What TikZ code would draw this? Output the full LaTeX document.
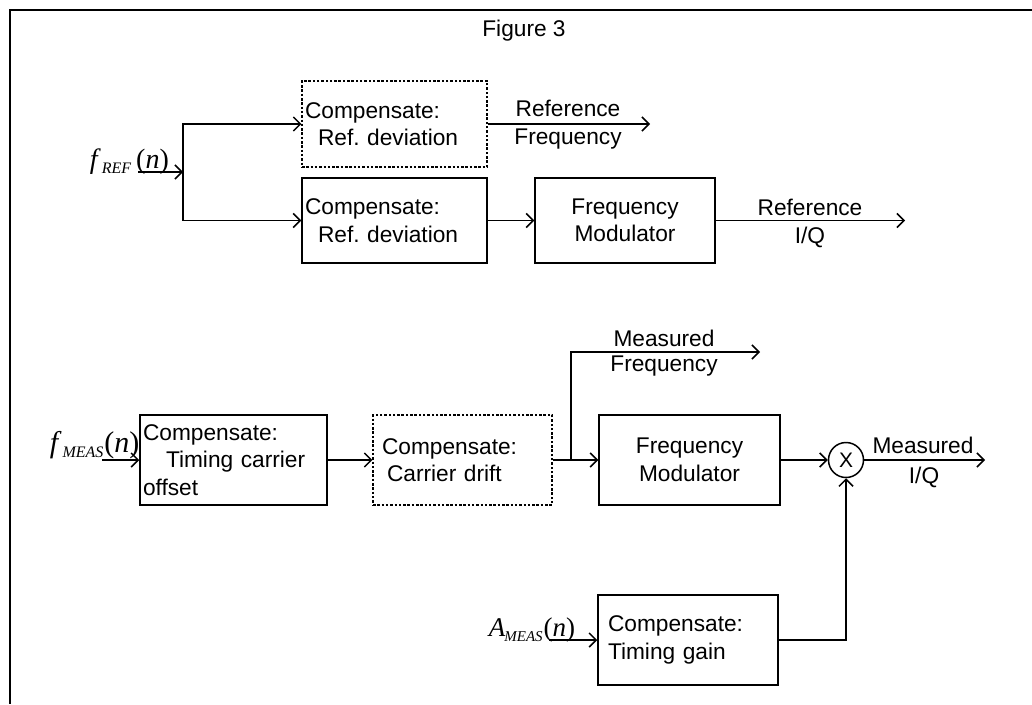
\documentclass[tikz,border=0pt]{standalone}
\usepackage{fontspec}
\setmainfont{Liberation Sans}
\newfontfamily\tnr{Liberation Serif}
\usetikzlibrary{arrows.meta}
\frenchspacing
% #1 letter, #2 subscript, #3 main size, #4 kern after letter, #5 sub size, #6 kern before (n)
\newcommand{\siglab}[6]{{\tnr\fontsize{#3}{#3}\selectfont\textit{#1}\kern#4\raisebox{-5pt}{\fontsize{#5}{#5}\selectfont\textit{#2}}\kern#6(\textit{n})}}
\begin{document}
\begin{tikzpicture}[x=1pt,y=-1pt,line width=1.5pt,
  every node/.style={font=\fontsize{22.7}{27.5}\selectfont},
  arr/.style={-{Straight Barb[length=7pt,width=14pt,line width=1.5pt]}},
  sbox/.style={draw,rectangle,inner ysep=0pt},
  dbox/.style={draw,rectangle,inner ysep=0pt,line width=1.2pt,dash pattern=on 2.5pt off 1.8pt},
  lbl/.style={anchor=base,inner sep=0pt},
  sig/.style={anchor=base west,inner sep=0pt}]
\useasboundingbox (0,0) rectangle (1032,704);
\draw[line width=2pt] (1032,10) -- (10,10) -- (10,704);

\node[lbl] (title) at (524,36) {Figure 3};

% top section
\node[dbox,minimum width=185pt,minimum height=86pt,text width=179pt,inner xsep=3pt,align=left] (b1) at (394.5,124) {Compensate:\\\hspace*{13pt}Ref.\ deviation};
\node[sbox,minimum width=185pt,minimum height=85pt,text width=179pt,inner xsep=3pt,align=left] (b2) at (394.5,220.5) {Compensate:\\\hspace*{13pt}Ref.\ deviation};
\node[sbox,minimum width=180pt,minimum height=85pt,text width=174pt,inner xsep=3pt,align=center] (m1) at (625,220.5) {Frequency\\Modulator};

\node[sig] (lREF) at (89,168) {\siglab{f}{REF}{28}{1pt}{16}{5pt}};
\coordinate (iREF) at (138,172);
\coordinate (jREF) at (183,172);
\draw[arr] (iREF) -- (jREF);
\draw[arr] (jREF) |- (b1.west);
\draw[arr] (jREF) |- (b2.west);
\draw[arr] (b2.east) -- (m1.west);

\coordinate (oRF) at (650,124);
\draw[arr] (b1.east) -- (oRF);
\node[lbl] (tRF1) at (568,116) {Reference};
\node[lbl] (tRF2) at (568,144) {Frequency};

\coordinate (oRIQ) at (905,220.5);
\draw[arr] (m1.east) -- (oRIQ);
\node[lbl] (tRI1) at (810,215) {Reference};
\node[lbl] (tRI2) at (810,243) {I/Q};

% bottom section
\node[sbox,minimum width=187pt,minimum height=90pt,text width=181pt,inner xsep=3pt,align=left] (c1) at (233.5,460) {Compensate:\\\hspace*{23pt}Timing carrier\\offset};
\node[dbox,minimum width=179pt,minimum height=90pt,text width=161pt,inner xsep=9pt,align=left] (c2) at (462.5,460) {Compensate:\\\hspace*{5pt}Carrier drift};
\node[sbox,minimum width=181pt,minimum height=90pt,text width=175pt,inner xsep=3pt,align=center] (m2) at (689.5,460) {Frequency\\Modulator};
\node[draw,circle,minimum size=35pt,inner sep=0pt,font=\fontsize{21}{21}\selectfont] (x) at (846,460) {X};
\node[sbox,minimum width=180pt,minimum height=90pt,text width=160pt,inner xsep=10pt,align=left] (g) at (688,640) {Compensate:\\Timing gain};

\node[sig] (lMEAS) at (49,452) {\siglab{f}{MEAS}{30}{1pt}{16}{1pt}};
\coordinate (iMEAS) at (102,460);
\draw[arr] (iMEAS) -- (c1.west);
\draw[arr] (c1.east) -- (c2.west);

\coordinate (j2) at (571,460);
\coordinate (oMF) at (760,352);
\draw (c2.east) -- (j2);
\draw[arr] (j2) -- (m2.west);
\draw[arr] (j2) |- (oMF);
\node[lbl] (tMF1) at (664,346) {Measured};
\node[lbl] (tMF2) at (664,371) {Frequency};

\draw[arr] (m2.east) -- (x.west);
\coordinate (oMIQ) at (985,460);
\draw[arr] (x.east) -- (oMIQ);
\node[lbl] (tMI1) at (923,453) {Measured};
\node[lbl] (tMI2) at (924,483) {I/Q};

\node[sig] (lA) at (488,636) {\siglab{A}{MEAS}{27}{-1pt}{15}{1pt}};
\coordinate (iA) at (549,640);
\draw[arr] (iA) -- (g.west);
\draw[arr] (g.east) -| (x.south);
\end{tikzpicture}
\end{document}
